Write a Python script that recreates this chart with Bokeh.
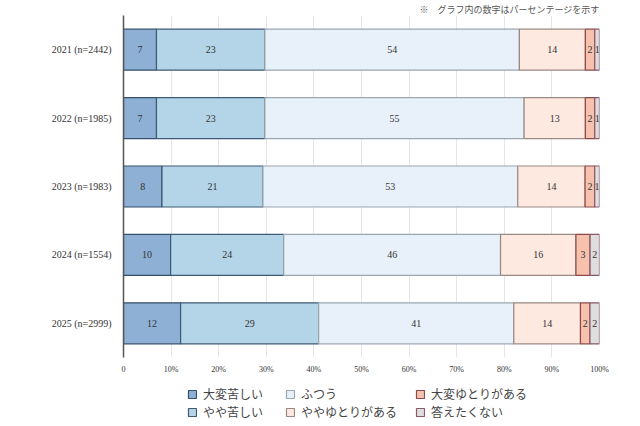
from bokeh.plotting import figure
from bokeh.layouts import column
from bokeh.models import ColumnDataSource, Legend, LegendItem, Title, FactorRange, Range1d
from bokeh.core.properties import value
from bokeh.embed import file_html
from bokeh.resources import INLINE

# Survey years and respondent counts
years = ["2021", "2022", "2023", "2024", "2025"]
counts = [2442, 1985, 1983, 1554, 2999]

# Response categories (left to right in each bar)
categories = ["大変苦しい", "やや苦しい", "ふつう", "ややゆとりがある", "大変ゆとりがある", "答えたくない"]

# Percentages per category, one value per year
very_hard = [7, 7, 8, 10, 12]
somewhat_hard = [23, 23, 21, 24, 29]
normal = [54, 55, 53, 46, 41]
somewhat_easy = [14, 13, 14, 16, 14]
very_easy = [2, 2, 2, 3, 2]
no_answer = [1, 1, 1, 2, 2]

tick_values = [0, 10, 20, 30, 40, 50, 60, 70, 80, 90, 100]
tick_labels = ["0", "10%", "20%", "30%", "40%", "50%", "60%", "70%", "80%", "90%", "100%"]

series = [very_hard, somewhat_hard, normal, somewhat_easy, very_easy, no_answer]
fills = ["#8fb0d5", "#b4d5e8", "#e8f1f9", "#fde9df", "#f6c1ad", "#dedede"]
borders = ["#34506c", "#3e5a74", "#9aa6b0", "#9a8a84", "#8c4a4c", "#8a5868"]

row_labels = [f"{y} (n={n})" for y, n in zip(years, counts)]

SERIF = value("Liberation Serif")

p = figure(
    width=640, height=380,
    y_range=FactorRange(factors=list(reversed(row_labels))),
    x_range=(0, 100),
    output_backend="svg", toolbar_location=None,
    min_border_left=123, min_border_right=41, min_border_top=0, min_border_bottom=23,
)
p.outline_line_color = None
p.background_fill_color = "white"

# Each row is drawn as a 100% stacked bar: segments are scaled by the row total
totals = [sum(s[i] for s in series) for i in range(len(years))]
left = [0.0] * len(years)
for vals, fc, lc in zip(series, fills, borders):
    widths = [v / t * 100 for v, t in zip(vals, totals)]
    right = [l + w for l, w in zip(left, widths)]
    src = ColumnDataSource(dict(
        y=row_labels, left=left, right=right,
        mid=[(l + r) / 2 for l, r in zip(left, right)],
        txt=[str(v) for v in vals],
    ))
    p.hbar(y="y", left="left", right="right", height=0.6, source=src,
           fill_color=fc, line_color=lc, line_width=1.2)
    p.text(x="mid", y="y", text="txt", source=src, text_align="center",
           text_baseline="middle", text_font=SERIF, text_font_size="10px",
           text_color="#333333")
    left = right

# Axes and grid
p.xaxis.ticker = tick_values
p.xaxis.major_label_overrides = {v: t for v, t in zip(tick_values, tick_labels)}
p.xaxis.axis_line_color = None
p.xaxis.major_tick_line_color = None
p.xaxis.minor_tick_line_color = None
p.xaxis.major_label_text_font = "Liberation Serif"
p.xaxis.major_label_text_font_size = "8px"
p.xaxis.major_label_text_color = "#333333"
p.xaxis.major_label_standoff = 1

p.yaxis.axis_line_color = "#555555"
p.yaxis.axis_line_width = 1.5
p.yaxis.major_tick_line_color = None
p.yaxis.minor_tick_line_color = None
p.yaxis.major_label_text_font = "Liberation Serif"
p.yaxis.major_label_text_font_size = "10px"
p.yaxis.major_label_text_color = "#333333"
p.yaxis.major_label_standoff = 6

p.xgrid.grid_line_color = "#e6e6e6"
p.ygrid.grid_line_color = None

# Note on the unit of the numbers inside the bars
p.add_layout(Title(text="※　グラフ内の数字はパーセンテージを示す", align="right",
                   text_font="Noto Sans CJK JP", text_font_size="9px",
                   text_font_style="normal", text_color="#555555",
                   standoff=0, offset=0), "above")

# Legend strip below the chart; its frame lines up with the chart frame.
# Swatch carriers sit outside the visible y range, so only the legend shows them.
lg = figure(width=640, height=46, x_range=Range1d(0, 1), y_range=Range1d(0, 1),
            output_backend="svg", toolbar_location=None,
            min_border_left=0, min_border_right=0, min_border_top=0, min_border_bottom=0)
lg.outline_line_color = None
lg.axis.visible = False
lg.grid.visible = False

swatches = [lg.hbar(y=[-5], left=[0], right=[1], height=0.5, fill_color=fc, line_color=lc,
                    line_width=1.2) for fc, lc in zip(fills, borders)]

for col, x0 in enumerate([64, 162, 292]):
    items = [LegendItem(label=categories[2 * col + j], renderers=[swatches[2 * col + j]])
             for j in range(2)]
    lg.add_layout(Legend(items=items, orientation="vertical", location=(x0, 6),
                         label_text_font="Noto Sans CJK JP", label_text_font_size="12px",
                         label_text_color="#444444", glyph_width=10, glyph_height=10,
                         spacing=1, padding=0, margin=0, label_standoff=6,
                         label_height=16, border_line_color=None,
                         background_fill_alpha=0))

open("out.html", "w").write(file_html(column(p, lg, spacing=0), INLINE))
